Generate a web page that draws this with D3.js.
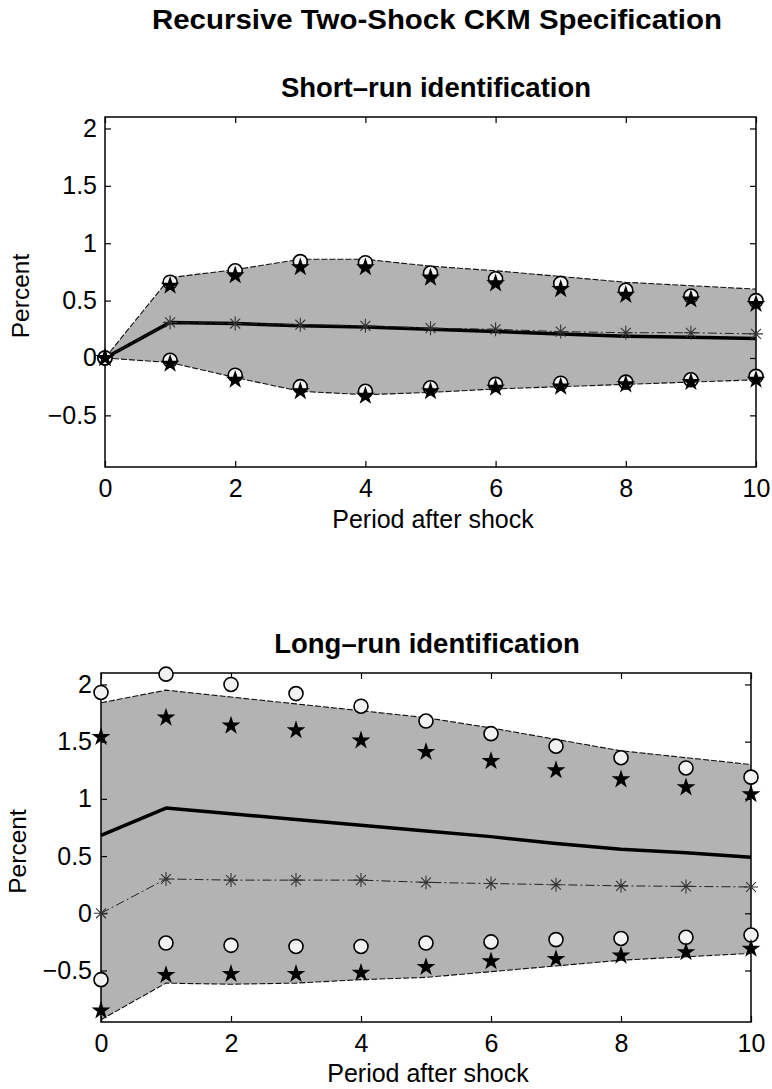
<!DOCTYPE html>
<html>
<head>
<meta charset="utf-8">
<script src="https://cdn.jsdelivr.net/npm/d3@7"></script>
<style>
  body { margin: 0; background: #fff; }
  svg { display: block; }
  text { font-family: "Liberation Sans", Arial, Helvetica, sans-serif; fill: #000; }
</style>
</head>
<body>
<svg id="chart" width="772" height="1089"></svg>
<script>
// Impulse responses, periods 0..10 after the shock
const periods = [0, 1, 2, 3, 4, 5, 6, 7, 8, 9, 10];
const xTicks = [0, 2, 4, 6, 8, 10];
const yTicks = [-0.5, 0, 0.5, 1, 1.5, 2];
const yTickLabels = ["\u22120.5", "0", "0.5", "1", "1.5", "2"];

// Short-run identification
const srBandUpper = [0, 0.70, 0.77, 0.86, 0.86, 0.80, 0.76, 0.71, 0.66, 0.63, 0.60];
const srBandLower = [0, -0.04, -0.17, -0.29, -0.32, -0.30, -0.27, -0.25, -0.23, -0.21, -0.19];
const srMean = [0, 0.31, 0.30, 0.28, 0.27, 0.25, 0.23, 0.21, 0.19, 0.18, 0.17];
const srTrue = [0, 0.31, 0.30, 0.29, 0.28, 0.26, 0.25, 0.23, 0.22, 0.22, 0.21];
const srCircleUpper = [0, 0.66, 0.76, 0.84, 0.83, 0.74, 0.69, 0.65, 0.59, 0.54, 0.50];
const srStarUpper = [0, 0.63, 0.72, 0.79, 0.79, 0.70, 0.65, 0.60, 0.55, 0.51, 0.47];
const srCircleLower = [0, -0.02, -0.15, -0.25, -0.29, -0.26, -0.23, -0.22, -0.21, -0.19, -0.16];
const srStarLower = [0, -0.05, -0.19, -0.29, -0.33, -0.29, -0.26, -0.25, -0.23, -0.21, -0.19];

// Long-run identification
const lrBandUpper = [1.84, 1.95, 1.89, 1.83, 1.77, 1.71, 1.62, 1.52, 1.42, 1.36, 1.30];
const lrBandLower = [-0.93, -0.61, -0.62, -0.61, -0.58, -0.56, -0.51, -0.46, -0.41, -0.38, -0.35];
const lrMean = [0.68, 0.92, 0.87, 0.82, 0.77, 0.72, 0.67, 0.61, 0.56, 0.53, 0.49];
const lrTrue = [0, 0.30, 0.29, 0.29, 0.29, 0.27, 0.26, 0.25, 0.24, 0.235, 0.23];
const lrCircleUpper = [1.93, 2.09, 2.00, 1.92, 1.81, 1.68, 1.57, 1.46, 1.36, 1.27, 1.19];
const lrStarUpper = [1.54, 1.71, 1.64, 1.60, 1.51, 1.41, 1.33, 1.25, 1.17, 1.10, 1.04];
const lrCircleLower = [-0.58, -0.26, -0.28, -0.29, -0.29, -0.26, -0.25, -0.23, -0.22, -0.21, -0.19];
const lrStarLower = [-0.85, -0.54, -0.53, -0.53, -0.52, -0.47, -0.42, -0.40, -0.37, -0.34, -0.31];

const svg = d3.select("#chart");
svg.append("rect").attr("width", 772).attr("height", 1089).attr("fill", "#fff");

svg.append("text")
  .attr("x", 437).attr("y", 28.5)
  .attr("text-anchor", "middle")
  .attr("font-size", 27).attr("font-weight", "bold")
  .attr("textLength", 570).attr("lengthAdjust", "spacingAndGlyphs")
  .text("Recursive Two-Shock CKM Specification");

// Eight-armed asterisk marker
const asteriskPath = (r) => {
  const d = r * Math.SQRT1_2;
  return `M${-r},0L${r},0M0,${-r}L0,${r}M${-d},${-d}L${d},${d}M${-d},${d}L${d},${-d}`;
};

function drawPanel(p) {
  const x = d3.scaleLinear().domain([0, 10]).range([p.left, p.right]);
  const y = d3.scaleLinear().domain([-0.95, 2.1]).range([p.bottom, p.top]);
  const g = svg.append("g");

  // confidence band
  const area = d3.area()
    .x((d, i) => x(periods[i]))
    .y0((d, i) => y(p.lower[i]))
    .y1((d) => y(d));
  g.append("path").datum(p.upper).attr("d", area).attr("fill", "#b3b3b3");

  // axes: ticks point inward on all four sides
  const ax = g.append("g").attr("class", "axes");
  ax.append("g").attr("transform", `translate(0,${p.bottom})`)
    .call(d3.axisBottom(x).tickValues(xTicks).tickSizeInner(-6).tickSizeOuter(0).tickPadding(12));
  ax.append("g").attr("transform", `translate(0,${p.top})`)
    .call(d3.axisTop(x).tickValues(xTicks).tickSizeInner(-6).tickSizeOuter(0).tickFormat(""));
  ax.append("g").attr("transform", `translate(${p.left},0)`)
    .call(d3.axisLeft(y).tickValues(yTicks).tickSizeInner(-6).tickSizeOuter(0).tickPadding(p.yPad)
      .tickFormat((d, i) => yTickLabels[i]));
  ax.append("g").attr("transform", `translate(${p.right},0)`)
    .call(d3.axisRight(y).tickValues(yTicks).tickSizeInner(-6).tickSizeOuter(0).tickFormat(""));
  ax.selectAll(".domain").remove();
  ax.selectAll(".tick line").attr("stroke", "#000").attr("stroke-width", 1.2);
  ax.selectAll(".tick text").attr("font-size", 25).attr("font-family", "'Liberation Sans', Arial, sans-serif");
  ax.append("rect")
    .attr("x", p.left).attr("y", p.top)
    .attr("width", p.right - p.left).attr("height", p.bottom - p.top)
    .attr("fill", "none").attr("stroke", "#000").attr("stroke-width", 1.5);

  const line = d3.line().x((d, i) => x(periods[i])).y((d) => y(d));

  // band edges
  [p.upper, p.lower].forEach((s) => {
    g.append("path").datum(s).attr("d", line)
      .attr("fill", "none").attr("stroke", "#111").attr("stroke-width", 1.1)
      .attr("stroke-dasharray", "6,2");
  });

  // mean response
  g.append("path").datum(p.mean).attr("d", line)
    .attr("fill", "none").attr("stroke", "#000").attr("stroke-width", 3.5)
    .attr("stroke-linejoin", "round");

  // model response with asterisks
  g.append("path").datum(p.truth).attr("d", line)
    .attr("fill", "none").attr("stroke", "#222").attr("stroke-width", 1)
    .attr("stroke-dasharray", "9,3,2,3");
  g.append("g").selectAll("path").data(p.truth).join("path")
    .attr("transform", (d, i) => `translate(${x(periods[i])},${y(d)})`)
    .attr("d", asteriskPath(7))
    .attr("fill", "none").attr("stroke", "#333").attr("stroke-width", 1.1);

  // circles
  [p.circleUpper, p.circleLower].forEach((s) => {
    g.append("g").selectAll("circle").data(s).join("circle")
      .attr("cx", (d, i) => x(periods[i])).attr("cy", (d) => y(d)).attr("r", 7)
      .attr("fill", "#f2f2f2").attr("stroke", "#000").attr("stroke-width", 1.6);
  });

  // stars
  const star = d3.symbol().type(d3.symbolStar).size(110);
  [p.starUpper, p.starLower].forEach((s) => {
    g.append("g").selectAll("path").data(s).join("path")
      .attr("transform", (d, i) => `translate(${x(periods[i])},${y(d)})`)
      .attr("d", star).attr("fill", "#000");
  });

  // titles and labels
  svg.append("text")
    .attr("x", p.titleX).attr("y", p.titleY).attr("text-anchor", "middle")
    .attr("font-size", 27.5).attr("font-weight", "bold")
    .text(p.title);
  svg.append("text")
    .attr("x", p.xLabelX).attr("y", p.xLabelY).attr("text-anchor", "middle")
    .attr("font-size", 25)
    .text("Period after shock");
  svg.append("text")
    .attr("transform", `translate(${p.yLabelX},${(p.top + p.bottom) / 2 + 4}) rotate(-90)`)
    .attr("text-anchor", "middle").attr("font-size", 24.5)
    .text("Percent");
}

drawPanel({
  left: 105, right: 756, top: 117, bottom: 467, yPad: 8,
  upper: srBandUpper, lower: srBandLower, mean: srMean, truth: srTrue,
  circleUpper: srCircleUpper, circleLower: srCircleLower,
  starUpper: srStarUpper, starLower: srStarLower,
  title: "Short\u2013run identification", titleX: 436, titleY: 96.5,
  xLabelX: 433, xLabelY: 528, yLabelX: 29
});

drawPanel({
  left: 101, right: 751, top: 673, bottom: 1022, yPad: 9,
  upper: lrBandUpper, lower: lrBandLower, mean: lrMean, truth: lrTrue,
  circleUpper: lrCircleUpper, circleLower: lrCircleLower,
  starUpper: lrStarUpper, starLower: lrStarLower,
  title: "Long\u2013run identification", titleX: 427, titleY: 653,
  xLabelX: 428, xLabelY: 1082, yLabelX: 26
});
</script>
</body>
</html>
